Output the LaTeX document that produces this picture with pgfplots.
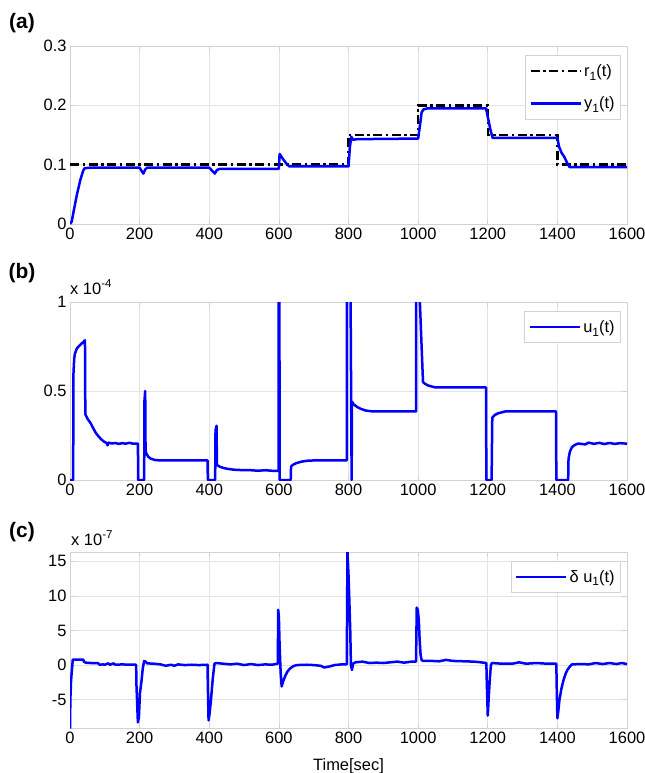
\documentclass[border=0pt]{standalone}
\usepackage{fontspec}
\setmainfont{Liberation Sans}
\usepackage{pgfplots}
\pgfplotsset{compat=1.18}

\newcommand\tickfont{\fontsize{16.5}{19}\selectfont}
\newcommand\sub[1]{\raisebox{-0.45ex}{\fontsize{12}{12}\selectfont #1}}

\pgfplotsset{
  mat/.style={
    scale only axis, width=557bp, height=178bp,
    xmin=0, xmax=1600, xtick={0,200,...,1600},
    grid=major, grid style={draw=gray!22, line width=0.6bp},
    axis line style={draw=gray!35, line width=0.8bp},
    tick style={draw=gray!35, line width=0.6bp},
    major tick length=5bp, tick align=inside,
    ticklabel style={font=\tickfont},
    /pgf/number format/assume math mode=true,
    /pgf/number format/1000 sep={},
    scaled y ticks=false,
    legend cell align=left,
    legend style={at={(0.989,0.95)}, anchor=north east,
      draw=gray!35, line width=0.6bp, font=\tickfont,
      inner xsep=4bp, inner ysep=7bp},
    legend image code/.code={\draw[##1] (0bp,0bp) -- (50bp,0bp);},
  },
  bl/.style={draw=blue, line width=2.5bp, line join=round},
}

\begin{document}
\begin{tikzpicture}[x=1bp,y=1bp]
\useasboundingbox (0,0) rectangle (645,-773);

% (a)
\node[font=\fontsize{21}{24}\selectfont\bfseries] at (22,-23) {(a)};
\begin{axis}[mat, at={(70bp,-46bp)}, anchor=north west,
  ymin=0, ymax=0.3, ytick={0,0.1,0.2,0.3},
  legend style={row sep=15bp}]
\addplot[black, line width=2.5bp, dash pattern=on 9bp off 3.5bp on 2.5bp off 3.5bp] coordinates {
  (0,0.1) (800,0.1) (800,0.15) (1000,0.15) (1000,0.2) (1200,0.2)
  (1200,0.15) (1400,0.15) (1400,0.1) (1600,0.1)};
\addplot[bl] coordinates {
  (0,0) (5,0.004) (10,0.02) (20,0.05) (30,0.075) (38,0.09) (42,0.094)
  (60,0.095) (200,0.095) (206,0.089) (211,0.085) (216,0.092) (222,0.095)
  (400,0.095) (408,0.09) (416,0.085) (422,0.091) (430,0.093) (600,0.093)
  (602,0.118) (610,0.111) (620,0.103) (630,0.097) (800,0.097)
  (804,0.13) (808,0.147) (813,0.142) (825,0.143) (1000,0.144)
  (1005,0.165) (1010,0.188) (1015,0.193) (1028,0.195) (1195,0.195)
  (1202,0.175) (1208,0.158) (1214,0.145) (1400,0.145)
  (1405,0.13) (1412,0.12) (1420,0.113) (1428,0.103) (1435,0.096) (1600,0.096)};
\legend{r\sub{1}(t), y\sub{1}(t)}
\end{axis}

% (b)
\node[font=\fontsize{21}{24}\selectfont\bfseries] at (22,-273) {(b)};
\node[font=\tickfont, anchor=base west, inner sep=0pt] at (70,-294) {x 10\textsuperscript{-4}};
\begin{axis}[mat, at={(70bp,-302bp)}, anchor=north west,
  ymin=0, ymax=1, ytick={0,0.5,1}]
\addplot[bl] coordinates {
  (0,0) (9,0) (10,0.6) (12,0.68) (14,0.71) (20,0.74) (30,0.76) (38,0.775)
  (43,0.785) (44,0.37) (50,0.345) (59,0.32) (67,0.29) (74,0.265) (82,0.245)
  (90,0.228) (98,0.215) (105,0.208) (108,0.195) (110,0.21) (120,0.205)
  (130,0.208) (140,0.203) (150,0.207) (160,0.204) (170,0.209) (180,0.205)
  (195,0.205) (196,0) (213,0) (214,0.45) (216,0.5) (217,0.17) (219,0.15)
  (225,0.13) (232,0.12) (245,0.112) (260,0.11) (395,0.11) (396,0) (417,0)
  (418,0.28) (421,0.305) (422,0.085) (430,0.075) (440,0.068) (455,0.062)
  (470,0.058) (490,0.056) (520,0.055) (540,0.052) (560,0.055) (580,0.052)
  (599,0.052) (600,3) (601,3) (602,0) (634,0) (635,0.075) (640,0.085)
  (650,0.095) (665,0.103) (680,0.108) (700,0.11) (795,0.11) (796,3)
  (805,3) (806,1.0) (809,0) (810,0.44) (815,0.425) (825,0.41) (835,0.4)
  (850,0.39) (870,0.385) (994,0.385) (995,3) (1004,3) (1005,1.0)
  (1014,0.55) (1020,0.54) (1030,0.53) (1050,0.52) (1195,0.52) (1196,0)
  (1211,0) (1213,0.35) (1220,0.365) (1230,0.375) (1250,0.385) (1396,0.385)
  (1397,0) (1431,0) (1432,0.12) (1436,0.16) (1442,0.185) (1450,0.197)
  (1460,0.205) (1480,0.2) (1490,0.21) (1505,0.203) (1520,0.209) (1535,0.202)
  (1550,0.208) (1565,0.203) (1580,0.207) (1600,0.204)};
\legend{u\sub{1}(t)}
\end{axis}

% (c)
\node[font=\fontsize{21}{24}\selectfont\bfseries] at (22,-532) {(c)};
\node[font=\tickfont, anchor=base west, inner sep=0pt] at (71,-545) {x 10\textsuperscript{-7}};
\begin{axis}[mat, at={(70bp,-552bp)}, anchor=north west, height=176bp,
  ymin=-9.1, ymax=16.35, ytick={-5,0,5,10,15},
  xlabel={Time[sec]}, xlabel style={font=\tickfont, yshift=-9bp}]
\addplot[bl] coordinates {
  (0,-9.2) (1,-5) (3,-2.3) (5,-1) (8,0.8) (38,0.8) (40,0.5) (45,0.35)
  (60,0.3) (80,0.3) (85,0.05) (95,0.1) (100,0.05) (110,0.25) (115,0.05)
  (125,0.25) (130,0.05) (150,0.1) (170,0.05) (190,0.05) (191,-3)
  (195,-8.3) (198,-7.5) (201,-4) (205,-2.5) (209,-0.5) (213,0.6) (217,0.5)
  (222,0.25) (240,0.2) (260,0.1) (275,-0.1) (290,0.05) (300,-0.1)
  (310,0.1) (330,0) (350,0.05) (370,0) (395,0.05) (396,-3) (398,-8)
  (401,-7) (405,-5) (410,-2) (415,0.2) (420,0.3) (440,0.2) (460,0.1)
  (480,0.2) (500,0) (520,0.15) (540,0) (560,0.1) (580,0.05) (597,0.2)
  (598,8) (600,7) (602,3) (605,-1) (608,-3.1) (612,-2.4) (618,-1.6)
  (625,-0.9) (632,-0.5) (640,-0.2) (650,0) (680,0.05) (700,0) (720,-0.1)
  (730,-0.35) (745,-0.2) (760,0) (780,0.1) (795,0.1) (797,16.5) (800,13)
  (802,10) (805,5) (807,0) (810,-0.7) (813,0.2) (820,0.4) (840,0.5)
  (860,0.3) (880,0.35) (900,0.3) (920,0.4) (940,0.5) (960,0.35)
  (980,0.5) (994,0.5) (996,8.3) (999,8.0) (1002,6.5) (1004,4) (1007,1.5)
  (1010,0.7) (1015,0.6) (1040,0.6) (1060,0.55) (1080,0.75) (1100,0.6)
  (1130,0.55) (1160,0.5) (1180,0.4) (1196,0.3) (1197,-2) (1200,-7.3)
  (1203,-4.5) (1206,-2) (1209,0) (1212,0.3) (1240,0.2) (1270,0.2)
  (1290,0.4) (1310,0.2) (1340,0.3) (1370,0.2) (1397,0.2) (1398,-3)
  (1400,-7.7) (1403,-6.5) (1406,-5) (1412,-3.3) (1418,-2.1) (1424,-1.2)
  (1430,-0.6) (1436,-0.2) (1442,0.1) (1470,0.15) (1490,0.1) (1510,0.3)
  (1530,0.15) (1550,0.3) (1570,0.15) (1585,0.3) (1600,0.15)};
\legend{δ u\sub{1}(t)}
\end{axis}
\end{tikzpicture}
\end{document}
